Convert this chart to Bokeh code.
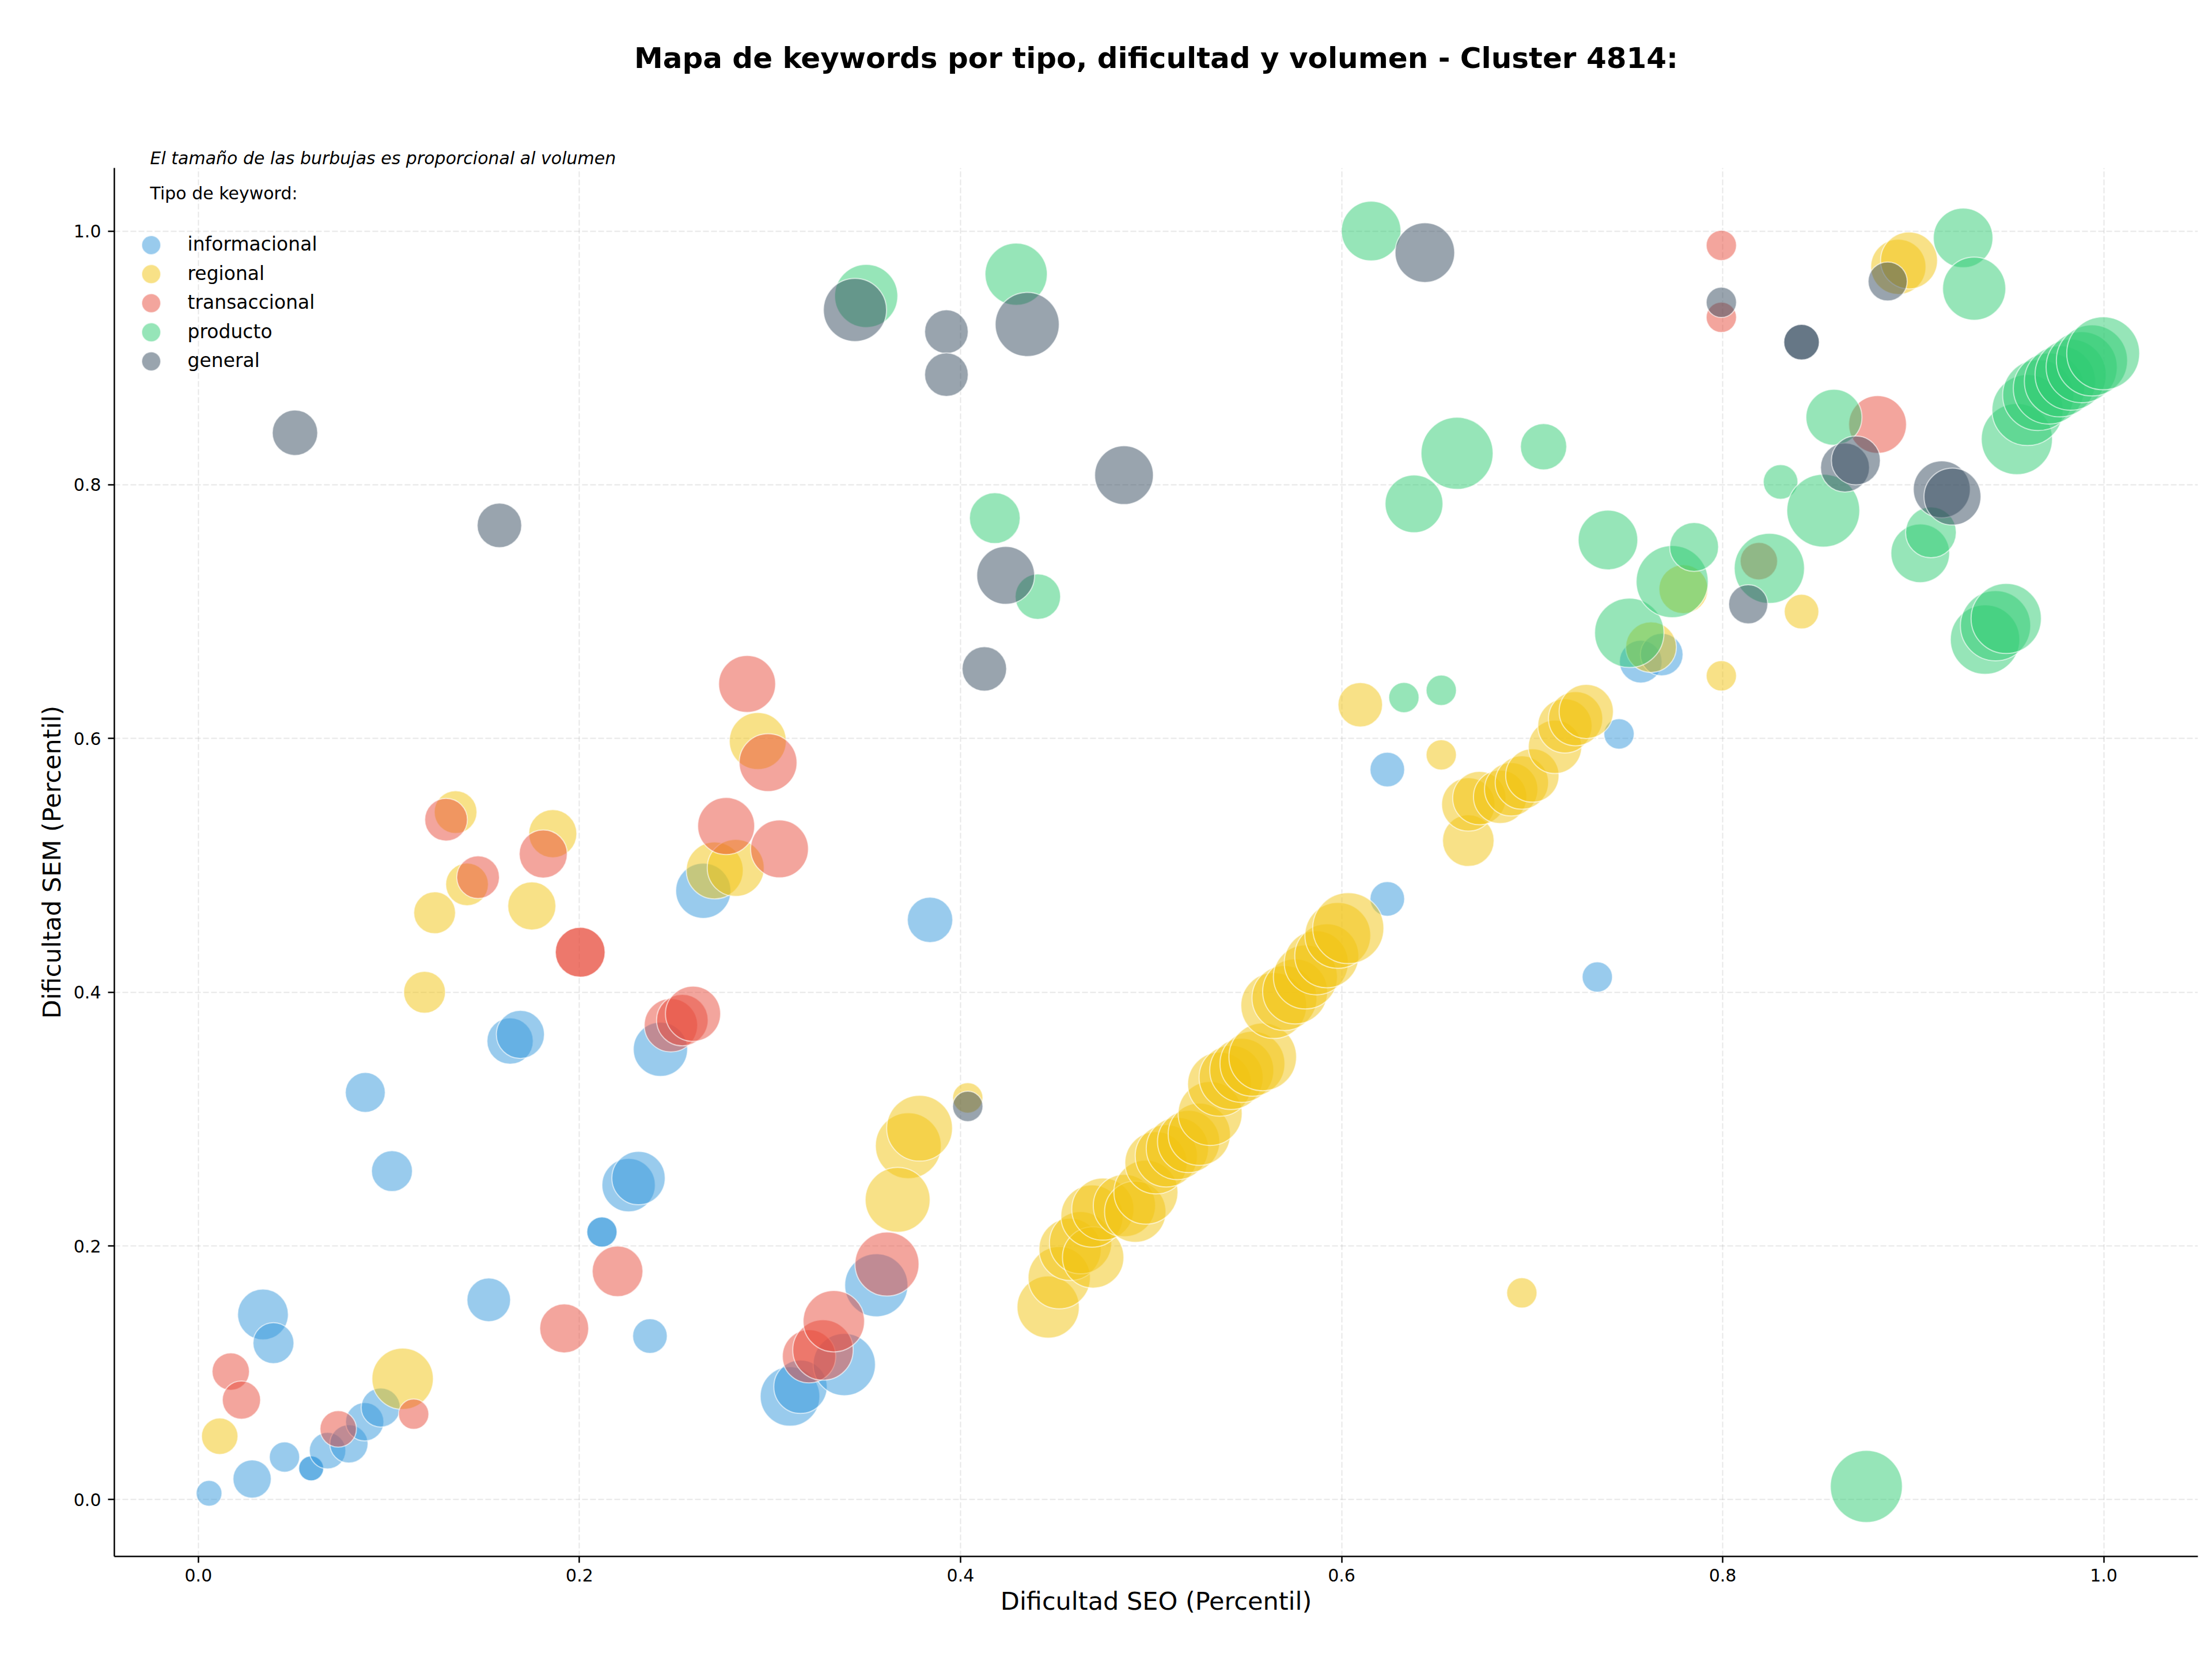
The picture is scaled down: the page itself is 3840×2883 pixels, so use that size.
import math

from bokeh.embed import file_html
from bokeh.layouts import column
from bokeh.models import (ColumnDataSource, FixedTicker, Label,
                          PrintfTickFormatter, Range1d)
from bokeh.plotting import figure
from bokeh.resources import INLINE

FONT = "DejaVu Sans"

# --- keyword types and their colours -------------------------------------
categories = ["informacional", "regional", "transaccional", "producto", "general"]
colors = ["#3498db", "#f1c40f", "#e74c3c", "#2ecc71", "#34495e"]

# --- SEO difficulty (x), SEM difficulty (y) and search volume per type ----
informacional_seo = [0.0056, 0.0282, 0.0452, 0.0592, 0.0592, 0.0678, 0.079, 0.0873, 0.0957, 0.0339,
                     0.0394, 0.0876, 0.1016, 0.1524, 0.1636, 0.169, 0.2118, 0.2118, 0.2258, 0.231,
                     0.237, 0.2425, 0.265, 0.3105, 0.316, 0.339, 0.3558, 0.384, 0.624, 0.624,
                     0.7342, 0.7456, 0.757, 0.768]
informacional_sem = [0.005, 0.0163, 0.0336, 0.0247, 0.0247, 0.0386, 0.044, 0.0614, 0.0726, 0.146,
                     0.1234, 0.321, 0.259, 0.1575, 0.3615, 0.3667, 0.211, 0.211, 0.248, 0.2535,
                     0.129, 0.355, 0.480, 0.0814, 0.089, 0.1065, 0.169, 0.457, 0.5755, 0.4736,
                     0.412, 0.6036, 0.6606, 0.6662]
informacional_vol = [500, 1100, 690, 470, 470, 1000, 1100, 1100, 1150, 1935,
                     1260, 1200, 1260, 1430, 1610, 1740, 690, 690, 2140, 2140,
                     900, 2215, 2290, 2670, 2140, 2915, 3000, 1550, 900, 900,
                     690, 690, 1370, 1370]

regional_seo = [0.0112, 0.1072, 0.1187, 0.124, 0.135, 0.141, 0.175, 0.186, 0.271, 0.282,
                0.2936, 0.3726, 0.3785, 0.367, 0.4038, 0.446, 0.4518, 0.4575, 0.463, 0.4696,
                0.469, 0.4747, 0.486, 0.4917, 0.4973, 0.5026, 0.508, 0.5138, 0.5197, 0.5253,
                0.531, 0.536, 0.542, 0.5476, 0.5532, 0.5586, 0.5644, 0.57, 0.5756, 0.581,
                0.5867, 0.5922, 0.598, 0.6035, 0.6098, 0.6523, 0.6665, 0.6665, 0.6723, 0.6832,
                0.689, 0.6946, 0.7001, 0.712, 0.7172, 0.7228, 0.7284, 0.6946, 0.7624, 0.7794,
                0.7993, 0.8414, 0.8922, 0.8978]
regional_sem = [0.050, 0.0953, 0.400, 0.4626, 0.542, 0.485, 0.468, 0.525, 0.496, 0.498,
                0.598, 0.279, 0.2928, 0.2364, 0.3167, 0.1518, 0.1749, 0.1973, 0.2025, 0.191,
                0.2235, 0.229, 0.2318, 0.227, 0.2424, 0.2655, 0.271, 0.2768, 0.2823, 0.288,
                0.3044, 0.3275, 0.3328, 0.3384, 0.3436, 0.349, 0.3895, 0.3954, 0.4006, 0.412,
                0.4232, 0.4287, 0.4448, 0.4505, 0.6266, 0.5871, 0.5195, 0.548, 0.553, 0.554,
                0.5599, 0.5653, 0.5708, 0.5934, 0.6099, 0.6156, 0.6213, 0.163, 0.672, 0.7177,
                0.6494, 0.700, 0.9718, 0.9768]
regional_vol = [1000, 2835, 1315, 1315, 1370, 1370, 1740, 1740, 2440, 2440,
                2440, 3260, 3260, 3170, 690, 2915, 2915, 2915, 2915, 2835,
                2915, 2915, 2915, 2835, 3085, 2915, 2915, 2915, 2915, 2915,
                3085, 3085, 3085, 3085, 3170, 3440, 3260, 3170, 3170, 3085,
                3085, 3085, 3260, 3810, 1490, 690, 2000, 2140, 2140, 2140,
                2140, 2140, 2140, 2140, 2215, 2215, 2215, 690, 1935, 1800,
                690, 900, 2290, 2440]

transaccional_seo = [0.017, 0.0226, 0.0734, 0.113, 0.130, 0.1468, 0.181, 0.192, 0.2004, 0.2004,
                     0.220, 0.248, 0.254, 0.2596, 0.277, 0.288, 0.299, 0.305, 0.3205, 0.3278,
                     0.3335, 0.3614, 0.7993, 0.7993, 0.819, 0.8813]
transaccional_sem = [0.101, 0.0785, 0.0558, 0.0674, 0.536, 0.4907, 0.509, 0.135, 0.4315, 0.4315,
                     0.180, 0.374, 0.378, 0.383, 0.531, 0.643, 0.581, 0.513, 0.113, 0.118,
                     0.1407, 0.1857, 0.9887, 0.932, 0.7398, 0.8475]
transaccional_vol = [1050, 1100, 1000, 690, 1370, 1370, 1740, 1800, 1870, 1870,
                     1935, 2140, 2000, 2290, 2440, 2440, 2515, 2515, 2140, 2750,
                     2835, 3085, 690, 690, 1050, 2515]

producto_seo = [0.3505, 0.418, 0.4292, 0.4406, 0.6155, 0.6327, 0.6523, 0.638, 0.6606, 0.706,
                0.7398, 0.751, 0.7735, 0.785, 0.8245, 0.8304, 0.8528, 0.8584, 0.8754, 0.9037,
                0.9093, 0.9262, 0.932, 0.9377, 0.9432, 0.9488, 0.9544, 0.96, 0.9656, 0.9712,
                0.977, 0.9826, 0.9884, 0.9938, 0.9997]
producto_sem = [0.9488, 0.7737, 0.966, 0.7118, 1.000, 0.6323, 0.638, 0.785, 0.8248, 0.830,
                0.7565, 0.6833, 0.7237, 0.751, 0.7341, 0.8022, 0.7796, 0.8532, 0.0104, 0.746,
                0.7625, 0.9946, 0.9546, 0.678, 0.6889, 0.6946, 0.836, 0.8589, 0.8707, 0.8759,
                0.8815, 0.8868, 0.8927, 0.898, 0.9036]
producto_vol = [3000, 1935, 2915, 1550, 2670, 690, 690, 2515, 3905, 1610,
                2670, 3620, 3905, 1800, 3715, 900, 4000, 2360, 3905, 2590,
                1935, 2670, 3000, 3620, 3715, 3715, 3810, 3810, 3810, 3810,
                3810, 3810, 3810, 3810, 4000]

general_seo = [0.0507, 0.158, 0.3446, 0.3926, 0.3926, 0.435, 0.4237, 0.4125, 0.4038, 0.4858,
               0.6437, 0.7993, 0.8414, 0.8414, 0.8134, 0.8642, 0.8699, 0.8866, 0.915, 0.9206]
general_sem = [0.841, 0.768, 0.9378, 0.9207, 0.8868, 0.9264, 0.7286, 0.6549, 0.310, 0.8076,
               0.983, 0.9438, 0.9124, 0.9124, 0.7058, 0.8136, 0.8192, 0.9603, 0.7964, 0.7907]
general_vol = [1550, 1490, 3000, 1430, 1430, 3085, 2515, 1490, 690, 2590,
               2670, 690, 950, 950, 1150, 1800, 1800, 1150, 2440, 2440]

ticks = [0.0, 0.2, 0.4, 0.6, 0.8, 1.0]

title_text = "Mapa de keywords por tipo, dificultad y volumen - Cluster 4814:"
note_text = "El tamaño de las burbujas es proporcional al volumen"
legend_title = "Tipo de keyword:"

series = [
    (informacional_seo, informacional_sem, informacional_vol),
    (regional_seo, regional_sem, regional_vol),
    (transaccional_seo, transaccional_sem, transaccional_vol),
    (producto_seo, producto_sem, producto_vol),
    (general_seo, general_sem, general_vol),
]

# axis limits: data extent plus a 5 % margin on each side
all_x = [v for s in series for v in s[0]]
all_y = [v for s in series for v in s[1]]
xpad = 0.05 * (max(all_x) - min(all_x))
ypad = 0.05 * (max(all_y) - min(all_y))
x_range = Range1d(min(all_x) - xpad, max(all_x) + xpad)
y_range = Range1d(min(all_y) - ypad, max(all_y) + ypad)

# page geometry (pixels)
W, H = 3840, 2883
LEFT, RIGHT, TOP, BOTTOM = 198, 25, 289, 182
FRAME_W = W - LEFT - RIGHT
FRAME_H = H - TOP - BOTTOM
NOTE_H = 35              # height of the italic note line sitting on the frame
HEAD_H = TOP - NOTE_H    # strip that carries the main title

# ---------------------------------------------------------------- header --
# the column layout lines this strip's frame up with the chart frame below,
# so its screen x positions are measured from the chart's left edge
head = figure(width=W, height=HEAD_H, output_backend="svg", toolbar_location=None,
              x_range=Range1d(0, 1), y_range=Range1d(0, 1),
              x_axis_location=None, y_axis_location=None, min_border=0)
head.outline_line_color = None
head.grid.visible = False
head.add_layout(Label(
    x=FRAME_W / 2, y=HEAD_H - 100, x_units="screen", y_units="screen",
    text=title_text, text_align="center", text_baseline="middle",
    text_font=FONT, text_font_size="50px", text_font_style="bold", text_color="black",
))

# ------------------------------------------------------------ main chart --
p = figure(
    width=W, height=H - HEAD_H,
    output_backend="svg", toolbar_location=None,
    x_range=x_range, y_range=y_range,
    min_border_left=LEFT, min_border_right=RIGHT,
    min_border_top=0, min_border_bottom=BOTTOM,
)
p.outline_line_color = None
p.background_fill_color = "white"
p.border_fill_color = "white"

# the note about bubble size sits right on top of the frame
p.title.text = note_text
p.title.align = "left"
p.title.offset = 260 - LEFT
p.title.standoff = 0
p.title.vertical_align = "bottom"
p.title.text_font = FONT
p.title.text_font_size = "30px"
p.title.text_font_style = "italic"
p.title.text_color = "black"

for grid in (p.xgrid, p.ygrid):
    grid.grid_line_color = "#b0b0b0"
    grid.grid_line_alpha = 0.3
    grid.grid_line_width = 2
    grid.grid_line_dash = "10 4"

for axis in (p.xaxis, p.yaxis):
    axis.ticker = FixedTicker(ticks=ticks)
    axis.formatter = PrintfTickFormatter(format="%.1f")
    axis.minor_tick_line_color = None
    axis.major_tick_in = 0
    axis.major_tick_out = 11
    axis.major_tick_line_width = 2.5
    axis.major_tick_line_color = "black"
    axis.axis_line_width = 2.5
    axis.axis_line_color = "black"
    axis.major_label_text_font = FONT
    axis.major_label_text_font_size = "30px"
    axis.major_label_text_color = "black"
    axis.axis_label_text_font = FONT
    axis.axis_label_text_font_size = "43px"
    axis.axis_label_text_font_style = "normal"
    axis.axis_label_text_color = "black"

p.xaxis.axis_label = "Dificultad SEO (Percentil)"
p.yaxis.axis_label = "Dificultad SEM (Percentil)"
p.xaxis.major_label_standoff = 10
p.yaxis.major_label_standoff = 12
p.xaxis.axis_label_standoff = 6
p.yaxis.axis_label_standoff = 10

# bubbles: marker area proportional to volume
for (seo, sem, vol), color in zip(series, colors):
    assert len(seo) == len(sem) == len(vol)
    src = ColumnDataSource(dict(x=seo, y=sem, d=[2.0 * math.sqrt(v) for v in vol]))
    p.scatter("x", "y", size="d", source=src,
              fill_color=color, fill_alpha=0.5,
              line_color="white", line_alpha=0.6, line_width=2)

# ---------------------------------------------------------------- legend --
def screen_to_x(sx):
    return x_range.start + (sx - LEFT) / FRAME_W * (x_range.end - x_range.start)


def screen_to_y(sy):
    return y_range.end - (sy - TOP) / FRAME_H * (y_range.end - y_range.start)


LEG_MARK_X, LEG_TEXT_X, LEG_ROW0, LEG_ROW_STEP = 262, 325, 423, 50.5
rows = [LEG_ROW0 + i * LEG_ROW_STEP for i in range(len(categories))]

p.scatter(x=[screen_to_x(LEG_MARK_X)] * len(rows), y=[screen_to_y(r) for r in rows],
          size=33, fill_color=colors, fill_alpha=0.5,
          line_color="white", line_alpha=0.6, line_width=2)
for cat, row in zip(categories, rows):
    p.add_layout(Label(
        x=LEG_TEXT_X - LEFT, y=FRAME_H - (row - TOP), x_units="screen", y_units="screen",
        text=cat, text_align="left", text_baseline="middle",
        text_font=FONT, text_font_size="33px", text_color="black",
    ))
p.add_layout(Label(
    x=260 - LEFT, y=FRAME_H - (335 - TOP), x_units="screen", y_units="screen",
    text=legend_title, text_align="left", text_baseline="middle",
    text_font=FONT, text_font_size="30px", text_color="black",
))

layout = column(head, p, spacing=0)

with open("out.html", "w") as f:
    f.write(file_html(layout, INLINE))
